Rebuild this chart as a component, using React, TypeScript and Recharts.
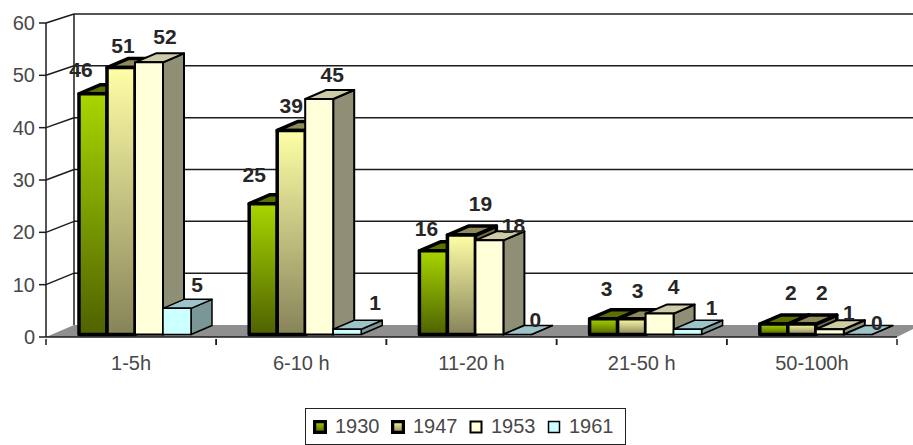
import React from 'react';
import { BarChart, Bar, XAxis, YAxis, ReferenceLine, LabelList, Legend } from 'recharts';

const categories = ['1-5h', '6-10 h', '11-20 h', '21-50 h', '50-100h'];
const values1930 = [46, 25, 16, 3, 2];
const values1947 = [51, 39, 19, 3, 2];
const values1953 = [52, 45, 18, 4, 1];
const values1961 = [5, 1, 0, 1, 0];
const yTicks = [0, 10, 20, 30, 40, 50, 60];

const data = categories.map((name, i) => ({
  name,
  y1930: values1930[i],
  y1947: values1947[i],
  y1953: values1953[i],
  y1961: values1961[i],
}));

const FONT = '"Liberation Sans", Arial, sans-serif';
const TEXT = '#484848';
const BAND = 170.2;
const DX = 21;
const DY = -9;

// labels were dragged by hand in the original, nudges are per category
const series = [
  {
    key: 'y1930', name: '1930', front: 'url(#g1930)', top: '#5c7000', side: '#3f4d00', stroke: 3.5, labelDx: -9, swatch: 'url(#g1930)',
    nudge: [[-3, 0], [0, -5], [2, 2], [12, -6], [26, -8]],
  },
  {
    key: 'y1947', name: '1947', front: 'url(#g1947)', top: '#8f8a5c', side: '#6f6b45', stroke: 3.5, labelDx: 2, swatch: 'url(#g1947)',
    nudge: [[0, 2], [-2, -1], [17, -8], [4, -4], [18, -8]],
  },
  {
    key: 'y1953', name: '1953', front: '#ffffd9', top: '#cfcba6', side: '#8f8f75', stroke: 2, labelDx: 16, swatch: '#ffffd9',
    nudge: [[0, -2], [-3, -1], [8, 9], [-2, -3], [3, 7]],
  },
  {
    key: 'y1961', name: '1961', front: '#ccffff', top: '#9cc4c9', side: '#7a9696', stroke: 1.5, labelDx: 22, swatch: '#ccffff',
    nudge: [[-2, 0], [6, -3], [-4, 9], [2, 2], [-3, 12]],
  },
];

// back wall sits up and to the right of the front axis
const backY = (y: number) => y - 12 + ((338 - y) / 315) * 3;

function Box({ x, y, width, height, s }: any) {
  const left = x + 4;
  const top = y - 2.5;
  const right = left + width;
  const bottom = top + height;
  return (
    <g stroke="#000" strokeWidth={s.stroke} strokeLinejoin="round">
      <polygon points={`${right},${top} ${right + DX},${top + DY} ${right + DX},${bottom + DY} ${right},${bottom}`} fill={s.side} />
      <polygon points={`${left},${top} ${left + DX},${top + DY} ${right + DX},${top + DY} ${right},${top}`} fill={s.top} />
      <rect x={left} y={top} width={width} height={height} fill={s.front} />
    </g>
  );
}

function WallLine({ x1, y1 }: any) {
  const by = backY(y1);
  return (
    <g fill="none" stroke="#1c1c1c" strokeWidth={1.5}>
      <line x1={x1} y1={y1} x2={74} y2={by} />
      <line x1={74} y1={by} x2={913} y2={by} />
    </g>
  );
}

function Floor({ x1, x2, y1 }: any) {
  const by = backY(y1);
  return (
    <g>
      <polygon points={`${x1},${y1} 74,${by} 913,${by} 913,${y1 - 8} ${x2},${y1}`} fill="#8f8f8f" />
      <line x1={74} y1={14} x2={74} y2={by} stroke="#1c1c1c" strokeWidth={1.5} />
    </g>
  );
}

function CategoryTick({ x, y, payload }: any) {
  return (
    <g>
      <line x1={x - BAND / 2} y1={y - 6} x2={x - BAND / 2} y2={y} stroke="#1c1c1c" strokeWidth={1.5} />
      <line x1={x + BAND / 2} y1={y - 6} x2={x + BAND / 2} y2={y} stroke="#1c1c1c" strokeWidth={1.5} />
      <text x={x} y={y + 25} textAnchor="middle" fontFamily={FONT} fontSize={20} fill={TEXT}>
        {payload.value}
      </text>
    </g>
  );
}

function LegendBox() {
  return (
    <div
      style={{
        boxSizing: 'border-box',
        width: 321,
        height: 37,
        border: '1.5px solid #222',
        background: '#fff',
        display: 'flex',
        alignItems: 'center',
        paddingLeft: 7,
        fontFamily: FONT,
        fontSize: 20,
        color: TEXT,
      }}
    >
      {series.map((s) => (
        <div key={s.key} style={{ display: 'flex', alignItems: 'center', width: 78 }}>
          <svg width={14} height={14} style={{ marginRight: 8 }}>
            <rect x={1.5} y={1.5} width={11} height={11} fill={s.swatch} stroke="#000" strokeWidth={s.stroke} />
          </svg>
          <span>{s.name}</span>
        </div>
      ))}
    </div>
  );
}

export default function App() {
  return (
    <div style={{ position: 'absolute', left: 0, top: 0, width: 913, height: 445, background: '#fff' }}>
      <BarChart
        width={913}
        height={445}
        data={data}
        margin={{ top: 23, right: 16, bottom: 31, left: 0 }}
        barSize={28}
        barGap={0}
      >
        <defs>
          <linearGradient id="g1930" x1="0" y1="0" x2="0" y2="1">
            <stop offset="0%" stopColor="#a8d600" />
            <stop offset="100%" stopColor="#4e6200" />
          </linearGradient>
          <linearGradient id="g1947" x1="0" y1="0" x2="0" y2="1">
            <stop offset="0%" stopColor="#ffffa6" />
            <stop offset="100%" stopColor="#87835a" />
          </linearGradient>
        </defs>
        <XAxis
          dataKey="name"
          height={40}
          axisLine={{ stroke: '#1c1c1c', strokeWidth: 1.5 }}
          tickLine={false}
          interval={0}
          tick={<CategoryTick />}
        />
        <YAxis
          width={46}
          domain={[0, 60]}
          ticks={yTicks}
          interval={0}
          axisLine={{ stroke: '#1c1c1c', strokeWidth: 1.5 }}
          tickLine={{ stroke: '#1c1c1c', strokeWidth: 1.5 }}
          tickSize={7}
          tickMargin={4}
          tick={{ fill: TEXT, fontSize: 20, fontFamily: FONT }}
        />
        <ReferenceLine y={0} shape={<Floor />} zIndex={50} />
        {yTicks.slice(1).map((t) => (
          <ReferenceLine key={t} y={t} shape={<WallLine />} zIndex={50} />
        ))}
        {series.map((s) => (
          <Bar
            key={s.key}
            dataKey={s.key}
            name={s.name}
            fill={s.swatch}
            isAnimationActive={false}
            shape={(props: any) => <Box {...props} s={s} />}
          >
            <LabelList
              dataKey={s.key}
              content={(p: any) => (
                <text
                  x={p.x + p.width / 2 + 4 + s.labelDx + s.nudge[p.index][0]}
                  y={p.y - 19 + s.nudge[p.index][1]}
                  textAnchor="middle"
                  fontFamily={FONT}
                  fontSize={21}
                  fontWeight="bold"
                  fill="#262626"
                >
                  {p.value}
                </text>
              )}
            />
          </Bar>
        ))}
        <Legend
          content={<LegendBox />}
          wrapperStyle={{ position: 'absolute', left: 305, top: 408, width: 321, height: 37 }}
        />
      </BarChart>
    </div>
  );
}
